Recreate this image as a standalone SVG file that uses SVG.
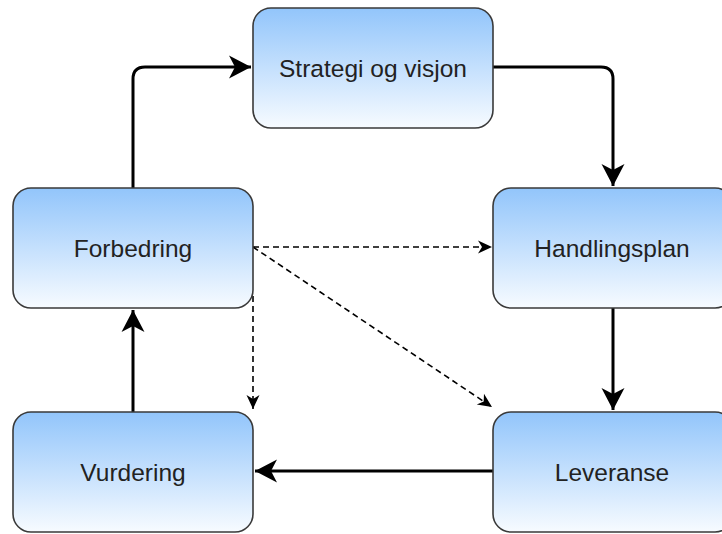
<svg xmlns="http://www.w3.org/2000/svg" width="722" height="534" viewBox="0 0 722 534">
  <style>
    .box { stroke: #3a3a3a; stroke-width: 1.6; fill: url(#grad); }
    .lbl { font-family: "Liberation Sans", Arial, sans-serif; font-size: 24.5px; fill: #222; text-anchor: middle; }
    .solid { fill: none; stroke: #000; stroke-width: 3; marker-end: url(#big); }
    .dash { fill: none; stroke: #000; stroke-width: 1.6; stroke-dasharray: 6 4; marker-end: url(#small); }
  </style>
  <defs>
    <linearGradient id="grad" x1="0" y1="0" x2="0" y2="1">
      <stop offset="0" stop-color="#92C5FB"/>
      <stop offset="1" stop-color="#F7FBFF"/>
    </linearGradient>
    <marker id="big" markerUnits="userSpaceOnUse" markerWidth="26" markerHeight="26" viewBox="-24 -13 26 26" refX="0" refY="0" orient="auto">
      <path d="M0,0 L-22,-11.5 L-16,0 L-22,11.5 Z" fill="#000"/>
    </marker>
    <marker id="small" markerUnits="userSpaceOnUse" markerWidth="18" markerHeight="18" viewBox="-16 -9 18 18" refX="0" refY="0" orient="auto">
      <path d="M0,0 L-14,-6.5 L-10,0 L-14,6.5 Z" fill="#000"/>
    </marker>
  </defs>

  <g id="connectors">
    <path class="solid" d="M133,188 L133,79 Q133,67 145,67 L251,67"/>
    <path class="solid" d="M493,67 L601,67 Q613,67 613,79 L613,186"/>
    <path class="solid" d="M613,308 L613,410"/>
    <path class="solid" d="M493,471 L255,471"/>
    <path class="solid" d="M133,412 L133,310"/>
    <path class="dash" d="M253,247 L492,247"/>
    <path class="dash" d="M253,247 L492,407"/>
    <path class="dash" d="M253,296 L253,409"/>
  </g>

  <g id="strategi">
    <rect class="box" x="253" y="8" width="240" height="120" rx="18" ry="18"/>
    <text class="lbl" x="373" y="77">Strategi og visjon</text>
  </g>
  <g id="forbedring">
    <rect class="box" x="13" y="188" width="240" height="120" rx="18" ry="18"/>
    <text class="lbl" x="133" y="257">Forbedring</text>
  </g>
  <g id="handlingsplan">
    <rect class="box" x="493" y="188" width="240" height="120" rx="18" ry="18"/>
    <text class="lbl" x="612" y="257">Handlingsplan</text>
  </g>
  <g id="vurdering">
    <rect class="box" x="13" y="412" width="240" height="120" rx="18" ry="18"/>
    <text class="lbl" x="133" y="481">Vurdering</text>
  </g>
  <g id="leveranse">
    <rect class="box" x="493" y="412" width="240" height="120" rx="18" ry="18"/>
    <text class="lbl" x="612" y="481">Leveranse</text>
  </g>
</svg>
